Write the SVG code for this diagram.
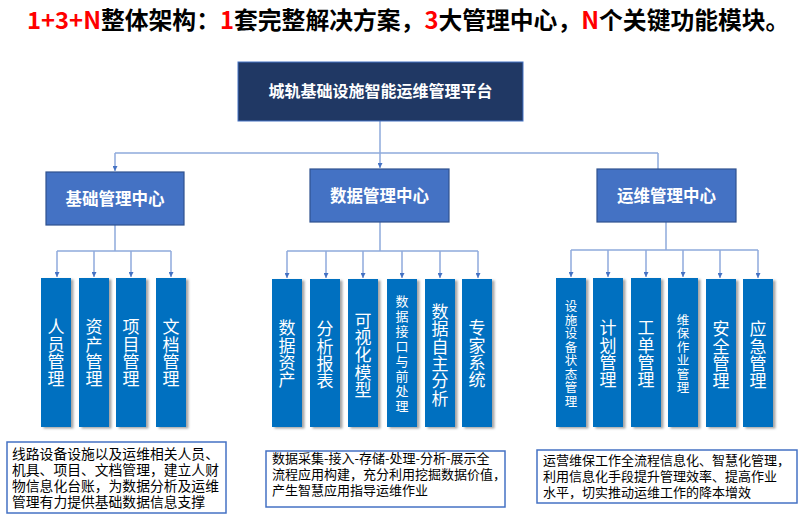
<svg xmlns="http://www.w3.org/2000/svg" width="800" height="520" viewBox="0 0 800 520">
<defs>
<style>
text{font-family:"Noto Sans CJK SC","Microsoft YaHei",sans-serif;}
.title{font-size:23.8px;font-weight:bold;fill:#000;}
.red{fill:#FF0000;}
.top{fill:#203864;stroke:#4472C4;stroke-width:1;}
.topt{font-size:16px;font-weight:bold;fill:#fff;text-anchor:middle;}
.mid{fill:#4472C4;stroke:#2F528F;stroke-width:1.2;}
.midt{font-size:16.5px;font-weight:bold;fill:#fff;text-anchor:middle;}
.sub{fill:#0070C0;filter:url(#sh);}
.vt{font-size:17px;fill:#fff;writing-mode:vertical-rl;text-anchor:middle;letter-spacing:0.3px;}
.vs{font-size:12.5px;fill:#fff;writing-mode:vertical-rl;text-anchor:middle;}
.desc{fill:#fff;stroke:#4472C4;stroke-width:1.5;}
.dt{fill:#000;font-size:13px;}
.conn path{fill:none;stroke:#8FAADC;stroke-width:1.5;}
</style>
<marker id="arr" markerUnits="userSpaceOnUse" markerWidth="7" markerHeight="5" refX="5" refY="2.5" orient="auto" viewBox="0 0 5 5">
<path d="M0,0 L5,2.5 L0,5 Z" fill="#4472C4"/>
</marker>
<filter id="sh" x="-20%" y="-10%" width="150%" height="120%">
<feDropShadow dx="2.5" dy="1.5" stdDeviation="1.2" flood-color="#000" flood-opacity="0.35"/>
</filter>
</defs>
<rect width="800" height="520" fill="#fff"/>

<text class="title" x="27" y="29"><tspan class="red">1+3+N</tspan>整体架构：<tspan class="red">1</tspan>套完整解决方案，<tspan class="red">3</tspan>大管理中心，<tspan class="red">N</tspan>个关键功能模块。</text>

<g id="connectors" class="conn">
<path d="M380,121 V153 M115,153 H658 M658,153 V169"/>
<path d="M115,153 V171" marker-end="url(#arr)"/>
<path d="M380,153 V168" marker-end="url(#arr)"/>
<path d="M115,225 V251 M57,251 H171"/>
<path d="M57,251 V277" marker-end="url(#arr)"/>
<path d="M94,251 V277" marker-end="url(#arr)"/>
<path d="M131,251 V277" marker-end="url(#arr)"/>
<path d="M171,251 V277" marker-end="url(#arr)"/>
<path d="M380,222 V251 M287,251 H478"/>
<path d="M287,251 V278" marker-end="url(#arr)"/>
<path d="M326,251 V278" marker-end="url(#arr)"/>
<path d="M363,251 V278" marker-end="url(#arr)"/>
<path d="M402,251 V278" marker-end="url(#arr)"/>
<path d="M440,251 V278" marker-end="url(#arr)"/>
<path d="M478,251 V278" marker-end="url(#arr)"/>
<path d="M666,222 V250 M571,250 H758"/>
<path d="M571,250 V277" marker-end="url(#arr)"/>
<path d="M608,250 V277" marker-end="url(#arr)"/>
<path d="M646,250 V277" marker-end="url(#arr)"/>
<path d="M683,250 V277" marker-end="url(#arr)"/>
<path d="M720,250 V278" marker-end="url(#arr)"/>
<path d="M758,250 V278" marker-end="url(#arr)"/>
</g>

<g id="platform"><rect class="top" x="238" y="62" width="285" height="59"/><text class="topt" x="380.5" y="97">城轨基础设施智能运维管理平台</text></g>

<g id="center-base"><rect class="mid" x="46" y="172" width="138" height="53"/><text class="midt" x="115" y="205">基础管理中心</text></g>
<g id="center-data"><rect class="mid" x="310" y="169" width="139" height="53"/><text class="midt" x="379.5" y="202">数据管理中心</text></g>
<g id="center-ops"><rect class="mid" x="597" y="169" width="139" height="53"/><text class="midt" x="666.5" y="202">运维管理中心</text></g>

<g id="m-renyuan"><rect class="sub" x="41" y="278" width="30" height="149"/><text class="vt" x="56" y="353">人员管理</text></g>
<g id="m-zichan"><rect class="sub" x="79" y="278" width="30" height="149"/><text class="vt" x="94" y="353">资产管理</text></g>
<g id="m-xiangmu"><rect class="sub" x="116" y="278" width="30" height="149"/><text class="vt" x="131" y="353">项目管理</text></g>
<g id="m-wendang"><rect class="sub" x="156" y="278" width="30" height="149"/><text class="vt" x="171" y="353">文档管理</text></g>

<g id="m-shujuzichan"><rect class="sub" x="272" y="279" width="30" height="148"/><text class="vt" x="287" y="354">数据资产</text></g>
<g id="m-fenxibaobiao"><rect class="sub" x="310" y="279" width="30" height="148"/><text class="vt" x="325" y="355">分析报表</text></g>
<g id="m-keshihua"><rect class="sub" x="348" y="279" width="30" height="148"/><text class="vt" x="363" y="355">可视化模型</text></g>
<g id="m-jiekou"><rect class="sub" x="387" y="279" width="30" height="148"/><text class="vs" x="402" y="355" style="font-size:13px;letter-spacing:2px">数据接口与前处理</text></g>
<g id="m-zizhu"><rect class="sub" x="425" y="279" width="30" height="148"/><text class="vt" x="440" y="355">数据自主分析</text></g>
<g id="m-zhuanjia"><rect class="sub" x="462" y="279" width="30" height="148"/><text class="vt" x="477" y="354">专家系统</text></g>

<g id="m-zhuangtai"><rect class="sub" x="556" y="278" width="30" height="149"/><text class="vs" x="571" y="354" style="letter-spacing:1px">设施设备状态管理</text></g>
<g id="m-jihua"><rect class="sub" x="593" y="278" width="30" height="149"/><text class="vt" x="608" y="354">计划管理</text></g>
<g id="m-gongdan"><rect class="sub" x="631" y="278" width="30" height="149"/><text class="vt" x="646" y="354">工单管理</text></g>
<g id="m-weibao"><rect class="sub" x="668" y="278" width="30" height="149"/><text class="vs" x="683" y="354" style="letter-spacing:1px">维保作业管理</text></g>
<g id="m-anquan"><rect class="sub" x="706" y="279" width="30" height="148"/><text class="vt" x="721" y="355">安全管理</text></g>
<g id="m-yingji"><rect class="sub" x="743" y="279" width="30" height="148"/><text class="vt" x="758" y="355">应急管理</text></g>

<g id="desc-base"><rect class="desc" x="7" y="442" width="219" height="71"/>
<text class="dt" style="font-size:13.8px"><tspan x="12" y="459">线路设备设施以及运维相关人员、</tspan><tspan x="12" y="475">机具、项目、文档管理，建立人财</tspan><tspan x="12" y="491">物信息化台账，为数据分析及运维</tspan><tspan x="12" y="507">管理有力提供基础数据信息支撑</tspan></text></g>
<g id="desc-data"><rect class="desc" x="266" y="451" width="239" height="56"/>
<text class="dt"><tspan x="272" y="462.5">数据采集-接入-存储-处理-分析-展示全</tspan><tspan x="272" y="478.5">流程应用构建，充分利用挖掘数据价值，</tspan><tspan x="272" y="495">产生智慧应用指导运维作业</tspan></text></g>
<g id="desc-ops"><rect class="desc" x="537" y="450" width="260" height="53"/>
<text class="dt"><tspan x="543" y="465">运营维保工作全流程信息化、智慧化管理，</tspan><tspan x="543" y="481">利用信息化手段提升管理效率、提高作业</tspan><tspan x="543" y="497">水平，切实推动运维工作的降本增效</tspan></text></g>
</svg>
